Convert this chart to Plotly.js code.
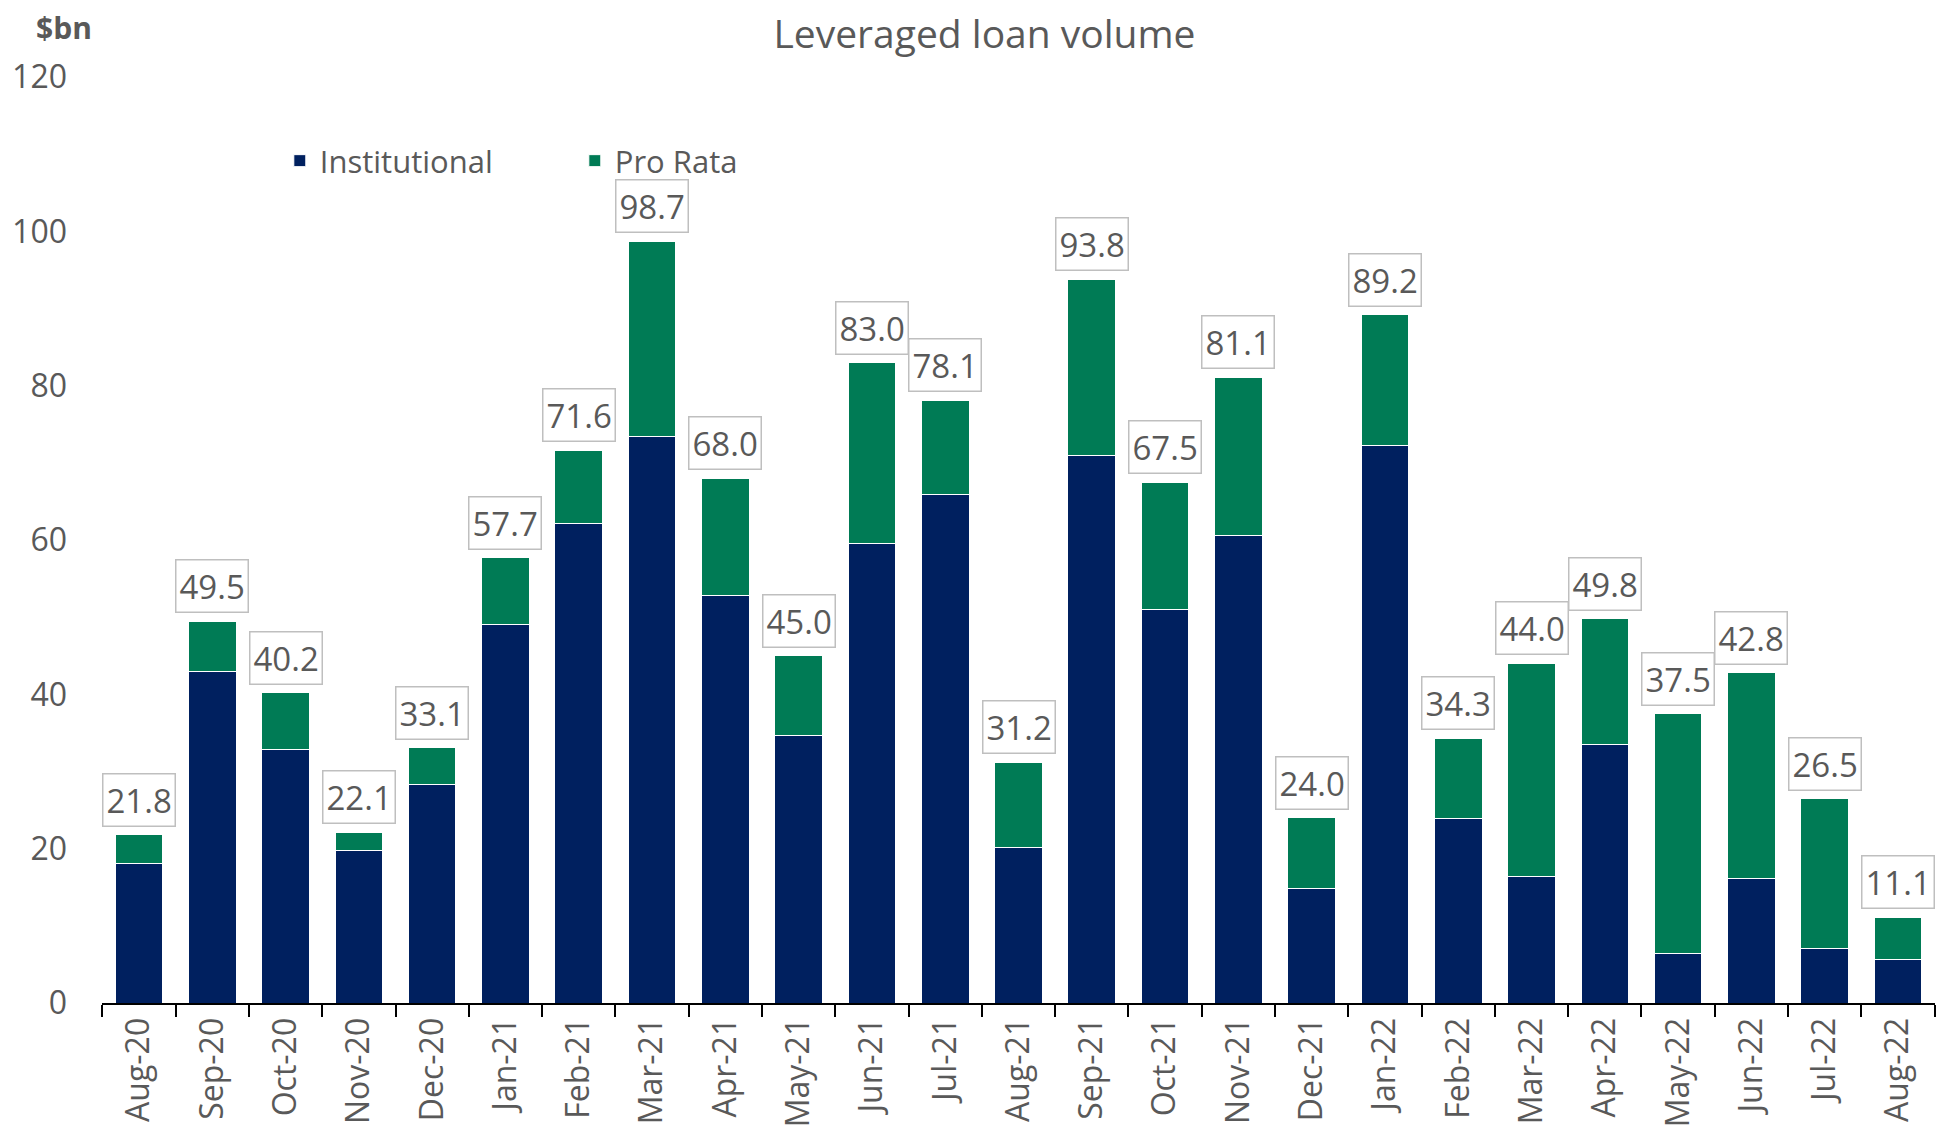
<!DOCTYPE html>
<html>
<head>
<meta charset="utf-8">
<script src="https://cdn.plot.ly/plotly-3.0.1.min.js"></script>
<style>html,body{margin:0;padding:0;background:#fff;}#chart{width:1938px;height:1133px;}</style>
</head>
<body>
<div id="chart"></div>
<script>
const months = ['Aug-20','Sep-20','Oct-20','Nov-20','Dec-20','Jan-21','Feb-21','Mar-21','Apr-21','May-21','Jun-21','Jul-21','Aug-21','Sep-21','Oct-21','Nov-21','Dec-21','Jan-22','Feb-22','Mar-22','Apr-22','May-22','Jun-22','Jul-22','Aug-22'];
const institutional = [18.1, 42.9, 32.9, 19.7, 28.3, 49.1, 62.1, 73.4, 52.8, 34.7, 59.5, 65.9, 20.2, 70.9, 51.0, 60.6, 14.8, 72.2, 23.9, 16.4, 33.5, 6.4, 16.1, 7.0, 5.7];
const proRata = [3.7, 6.6, 7.3, 2.4, 4.8, 8.6, 9.5, 25.3, 15.2, 10.3, 23.5, 12.2, 11.0, 22.9, 16.5, 20.5, 9.2, 17.0, 10.4, 27.6, 16.3, 31.1, 26.7, 19.5, 5.4];
const yTicks = [0, 20, 40, 60, 80, 100, 120];

const FONT = '"Open Sans", "Noto Sans", sans-serif';
const GREY = '#595959';
const NAVY = '#00205f';
const GREEN = '#007b55';

const traces = [
  {type:'bar', name:'Institutional', x:months, y:institutional,
   marker:{color:NAVY, line:{color:'#ffffff', width:1}}, hoverinfo:'skip'},
  {type:'bar', name:'Pro Rata', x:months, y:proRata,
   marker:{color:GREEN, line:{color:'#ffffff', width:1}}, hoverinfo:'skip'}
];

const annotations = months.map((m, i) => {
  const total = institutional[i] + proRata[i];
  return {x:m, y:total, xref:'x', yref:'y', text:total.toFixed(1), showarrow:false,
    yanchor:'bottom', yshift:8, font:{family:FONT, size:33, color:GREY},
    bgcolor:'#ffffff', bordercolor:'#bfbfbf', borderwidth:1.5, borderpad:3};
});
annotations.push({xref:'paper', yref:'paper', x:-0.037, y:1.0, xanchor:'left', yanchor:'bottom', yshift:27,
  text:'<b>$bn</b>', showarrow:false, font:{family:FONT, size:30, color:GREY}});

const layout = {
  width:1938, height:1133,
  margin:{l:102, r:3, t:77, b:130, autoexpand:false},
  paper_bgcolor:'#ffffff', plot_bgcolor:'#ffffff',
  barmode:'stack', bargap:0.35,
  font:{family:FONT, color:GREY},
  title:{text:'Leveraged loan volume', x:0.508, xref:'container', y:1-34/1133, yref:'container',
    xanchor:'center', yanchor:'middle', automargin:false, font:{family:FONT, size:39, color:GREY}},
  xaxis:{type:'category', tickangle:-90, tickson:'boundaries', ticks:'outside', ticklen:12, tickwidth:2,
    tickcolor:'#000000', showline:true, linecolor:'#000000', linewidth:2, showgrid:false,
    tickfont:{family:FONT, size:32, color:GREY}, fixedrange:true, automargin:false},
  yaxis:{range:[0,120], tickvals:yTicks, ticktext:yTicks.map(String), showgrid:false, zeroline:false,
    showline:false, ticks:'', ticklabelstandoff:34, automargin:false,
    tickfont:{family:FONT, size:32, color:GREY}, fixedrange:true},
  legend:{orientation:'h', x:0.097, xanchor:'left', y:(1003-161)/926, yref:'paper', yanchor:'middle',
    font:{family:FONT, size:31, color:GREY}, entrywidth:250, entrywidthmode:'pixels',
    traceorder:'normal', bgcolor:'rgba(0,0,0,0)'},
  annotations:annotations,
  showlegend:true
};

Plotly.newPlot('chart', traces, layout, {displayModeBar:false, staticPlot:true});
</script>
</body>
</html>
